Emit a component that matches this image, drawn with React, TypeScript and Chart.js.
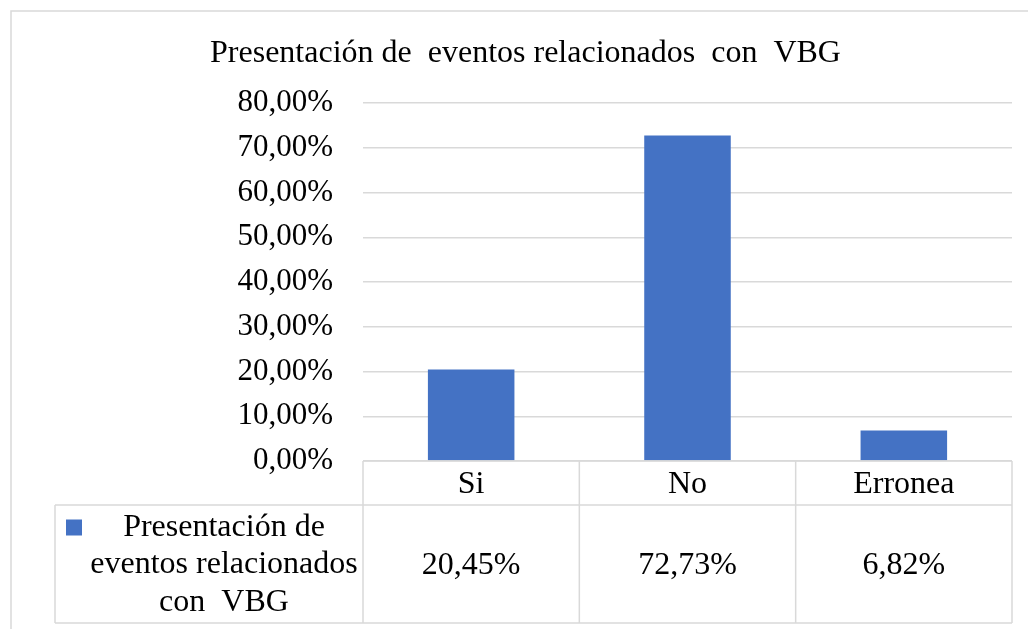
import React, { useEffect, useRef } from "react";
import { Chart, registerables } from "chart.js";

Chart.register(...registerables);

const TITLE = "Presentación de  eventos relacionados  con  VBG";
const SERIES_NAME_LINES = ["Presentación de", "eventos relacionados", "con  VBG"];
const CATEGORIES = ["Si", "No", "Erronea"];
const VALUES = [20.45, 72.73, 6.82];
const Y_MIN = 0;
const Y_MAX = 80;
const Y_STEP = 10;

const BAR_COLOR = "#4472C4";
const LINE_COLOR = "#d9d9d9";
const FONT_FAMILY = "'Liberation Serif', 'Times New Roman', serif";
const TICK_SIZE = 31;
const TEXT_SIZE = 32;

const fmtPct = (v: number) => v.toFixed(2).replace(".", ",") + "%";

const frameAndTable = {
  id: "frameAndTable",
  beforeDraw(chart: any) {
    const ctx = chart.ctx;
    ctx.save();
    ctx.fillStyle = "#ffffff";
    ctx.fillRect(0, 0, chart.width, chart.height);
    ctx.strokeStyle = LINE_COLOR;
    ctx.lineWidth = 1.5;
    ctx.beginPath();
    ctx.moveTo(11, chart.height + 2);
    ctx.lineTo(11, 11);
    ctx.lineTo(chart.width + 2, 11);
    ctx.stroke();
    ctx.restore();
  },
  afterDraw(chart: any) {
    const ctx = chart.ctx;
    const x = chart.scales.x;
    const y = chart.scales.y;
    const n = CATEGORIES.length;
    const band = (x.right - x.left) / n;
    const top = y.getPixelForValue(Y_MIN);
    const headerBottom = top + 44;
    const bottom = headerBottom + 118;
    const legendLeft = 55;
    ctx.save();
    ctx.strokeStyle = LINE_COLOR;
    ctx.lineWidth = 1.5;
    ctx.beginPath();
    ctx.moveTo(x.left, top);
    ctx.lineTo(x.right, top);
    ctx.moveTo(legendLeft, headerBottom);
    ctx.lineTo(x.right, headerBottom);
    ctx.moveTo(legendLeft, bottom);
    ctx.lineTo(x.right, bottom);
    ctx.moveTo(legendLeft, headerBottom);
    ctx.lineTo(legendLeft, bottom);
    for (let i = 0; i <= n; i++) {
      const px = x.left + band * i;
      ctx.moveTo(px, top);
      ctx.lineTo(px, bottom);
    }
    ctx.stroke();

    ctx.fillStyle = "#000000";
    ctx.font = `${TEXT_SIZE}px ${FONT_FAMILY}`;
    ctx.textAlign = "center";
    ctx.textBaseline = "middle";
    const headerMid = (top + headerBottom) / 2 + 1.5;
    const rowMid = (headerBottom + bottom) / 2 + 2;
    CATEGORIES.forEach((c, i) => {
      const cx = x.getPixelForValue(i);
      ctx.fillText(c, cx, headerMid);
      ctx.fillText(fmtPct(VALUES[i]), cx, rowMid);
    });

    const lineH = 37.5;
    const textCx = 224;
    SERIES_NAME_LINES.forEach((t, i) => {
      ctx.fillText(t, textCx, rowMid + (i - 1) * lineH - 1);
    });
    ctx.fillStyle = BAR_COLOR;
    ctx.fillRect(66, rowMid - lineH - 9, 16, 16);
    ctx.restore();
  },
};

export default function App() {
  const ref = useRef<HTMLCanvasElement | null>(null);
  useEffect(() => {
    if (!ref.current) return;
    const chart = new Chart(ref.current, {
      type: "bar",
      data: {
        labels: CATEGORIES,
        datasets: [
          {
            label: SERIES_NAME_LINES.join(" "),
            data: VALUES,
            backgroundColor: BAR_COLOR,
            categoryPercentage: 0.8,
            barPercentage: 0.5,
          },
        ],
      },
      options: {
        responsive: false,
        animation: false,
        layout: { padding: { left: 39, right: 16, top: 0, bottom: 0 } },
        plugins: {
          legend: { display: false },
          tooltip: { enabled: false },
          title: {
            display: true,
            text: TITLE,
            color: "#000000",
            font: { family: FONT_FAMILY, size: TEXT_SIZE, weight: "normal", lineHeight: 1.2 },
            padding: { top: 34, bottom: 30.6 },
          },
        },
        scales: {
          x: {
            grid: { display: false },
            border: { display: false },
            ticks: { display: false },
            afterFit: (s: any) => {
              s.height = 168;
            },
          },
          y: {
            min: Y_MIN,
            max: Y_MAX,
            grid: { color: LINE_COLOR, lineWidth: 1.5, drawTicks: false },
            border: { display: false },
            ticks: {
              stepSize: Y_STEP,
              padding: 30,
              color: "#000000",
              font: { family: FONT_FAMILY, size: TICK_SIZE },
              callback: (v: any) => fmtPct(Number(v)),
            },
            afterFit: (s: any) => {
              s.width = 324;
            },
          },
        },
      },
      plugins: [frameAndTable],
    });
    return () => chart.destroy();
  }, []);
  return (
    <div style={{ position: "fixed", left: 0, top: 0, width: 1028, height: 629, background: "#fff" }}>
      <canvas ref={ref} width={1028} height={629} />
    </div>
  );
}
